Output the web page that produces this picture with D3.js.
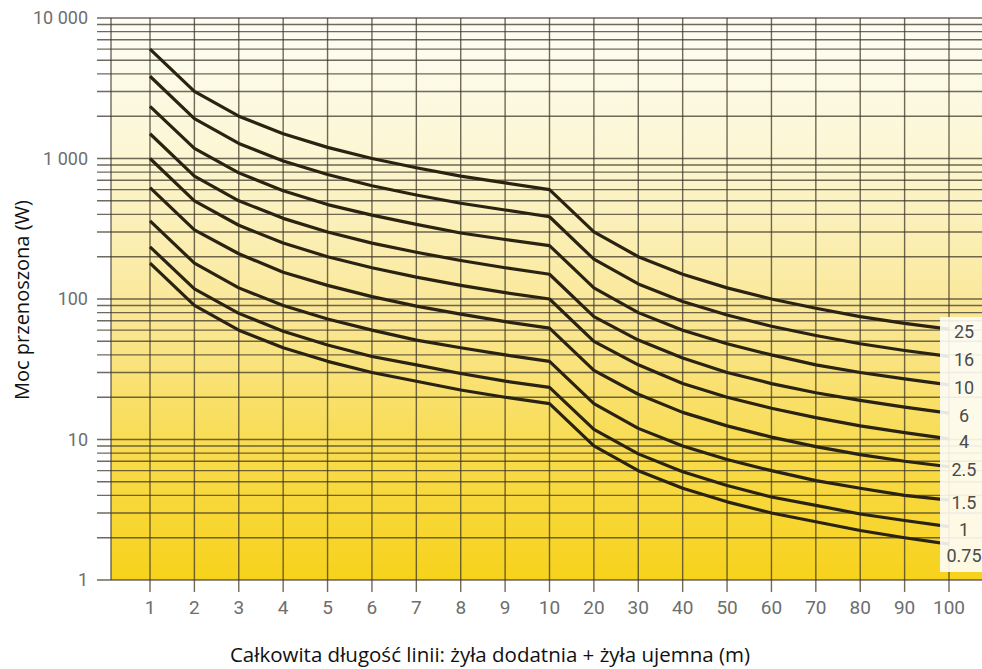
<!DOCTYPE html>
<html lang="pl">
<head>
    <meta charset="UTF-8">
    <script src="https://d3js.org/d3.v7.min.js"></script>
    <style>
        body { margin: 0; background: #fff; }
        .tick-label { font-family: "Liberation Sans Narrow", "Roboto", sans-serif; fill: #6e6e6e; }
        .axis-title { font-family: "Open Sans", "Noto Sans", sans-serif; fill: #111; }
    </style>
    <title>Moc przenoszona</title>
</head>
<body>
    <script>
        // Długość linii (m) – kategorie osi X
        const lengths = ["1", "2", "3", "4", "5", "6", "7", "8", "9", "10",
                         "20", "30", "40", "50", "60", "70", "80", "90", "100"];

        // Przekrój żyły (mm²) – etykiety krzywych
        const sections = ["25", "16", "10", "6", "4", "2.5", "1.5", "1", "0.75"];

        // Moc przenoszona (W), jedna tablica na przekrój
        const p25  = [6000, 3000, 2000, 1500, 1200, 1000, 860, 750, 670, 600, 300, 200, 150, 120, 100, 86, 75, 67, 61];
        const p16  = [3850, 1920, 1280, 960, 770, 640, 550, 480, 430, 385, 192, 128, 96, 77, 64, 55, 48, 43, 39];
        const p10  = [2350, 1180, 790, 590, 470, 395, 340, 295, 265, 240, 120, 80, 60, 48, 40, 34, 30, 27, 24.5];
        const p6   = [1500, 750, 500, 375, 300, 250, 215, 188, 167, 150, 75, 51, 38, 30, 25, 21.5, 19, 17, 15.4];
        const p4   = [1000, 500, 335, 250, 200, 167, 143, 125, 111, 100, 50, 34, 25, 20, 16.7, 14.3, 12.5, 11.2, 10.1];
        const p2_5 = [620, 310, 210, 155, 125, 104, 89, 78, 69, 62, 31, 21, 15.6, 12.5, 10.4, 8.9, 7.8, 7, 6.4];
        const p1_5 = [360, 180, 120, 90, 72, 60, 51, 45, 40, 36, 18, 12, 9, 7.2, 6, 5.1, 4.5, 4, 3.7];
        const p1   = [235, 118, 79, 59, 47, 39, 34, 29.5, 26, 23.5, 11.8, 7.9, 5.9, 4.7, 3.9, 3.4, 2.95, 2.65, 2.4];
        const p075 = [180, 90, 60, 45, 36, 30, 26, 22.5, 20, 18, 9, 6, 4.5, 3.6, 3, 2.6, 2.25, 2, 1.8];

        const series = [p25, p16, p10, p6, p4, p2_5, p1_5, p1, p075];

        const width = 982;
        const height = 669;
        const plot = { left: 111, right: 982, top: 18, bottom: 580 };

        const svg = d3.select("body")
            .append("svg")
            .attr("width", width)
            .attr("height", height);

        const x = d3.scalePoint()
            .domain(lengths)
            .range([plot.left + 39, plot.right - 33]);

        const y = d3.scaleLog()
            .domain([1, 10000])
            .range([plot.bottom, plot.top]);

        // tło z gradientem (jasne u góry, żółte na dole)
        const grad = svg.append("defs").append("linearGradient")
            .attr("id", "bg")
            .attr("x1", 0).attr("y1", 0).attr("x2", 0).attr("y2", 1);
        grad.append("stop").attr("offset", "0%").attr("stop-color", "#fdfdf6");
        grad.append("stop").attr("offset", "25%").attr("stop-color", "#fcf6d2");
        grad.append("stop").attr("offset", "55%").attr("stop-color", "#fae690");
        grad.append("stop").attr("offset", "80%").attr("stop-color", "#f8da45");
        grad.append("stop").attr("offset", "100%").attr("stop-color", "#f7d21c");

        svg.append("rect")
            .attr("x", plot.left)
            .attr("y", plot.top)
            .attr("width", plot.right - plot.left)
            .attr("height", plot.bottom - plot.top)
            .attr("fill", "url(#bg)");

        const gridColor = "#3f3829";

        // poziome linie siatki (log)
        const yTicks = y.ticks();
        svg.append("g")
            .selectAll("line")
            .data(yTicks)
            .join("line")
            .attr("x1", plot.left - 14)
            .attr("x2", plot.right)
            .attr("y1", d => y(d))
            .attr("y2", d => y(d))
            .attr("stroke", gridColor)
            .attr("stroke-opacity", 0.75)
            .attr("stroke-width", 1.4);

        // pionowe linie siatki
        svg.append("line")
            .attr("x1", plot.left).attr("x2", plot.left)
            .attr("y1", plot.top).attr("y2", plot.bottom)
            .attr("stroke", gridColor)
            .attr("stroke-opacity", 0.75)
            .attr("stroke-width", 1.4);

        svg.append("g")
            .selectAll("line")
            .data(lengths)
            .join("line")
            .attr("x1", d => x(d))
            .attr("x2", d => x(d))
            .attr("y1", plot.top)
            .attr("y2", plot.bottom + 12)
            .attr("stroke", gridColor)
            .attr("stroke-opacity", 0.75)
            .attr("stroke-width", 1.4);

        // etykiety osi Y
        const fmt = d3.formatLocale({ thousands: " ", grouping: [3], decimal: ".", currency: ["", ""] }).format(",d");
        svg.append("g")
            .selectAll("text")
            .data(yTicks.filter(d => Number.isInteger(Math.log10(d))))
            .join("text")
            .attr("class", "tick-label")
            .attr("x", plot.left - 23)
            .attr("y", d => y(d))
            .attr("dy", "0.35em")
            .attr("text-anchor", "end")
            .style("font-size", "18px")
            .text(d => fmt(d));

        // etykiety osi X
        svg.append("g")
            .selectAll("text")
            .data(lengths)
            .join("text")
            .attr("class", "tick-label")
            .attr("x", d => x(d))
            .attr("y", plot.bottom + 34)
            .attr("text-anchor", "middle")
            .style("font-size", "19px")
            .text(d => d);

        // krzywe
        const line = d3.line()
            .x((d, i) => x(lengths[i]))
            .y(d => y(d));

        svg.append("g")
            .selectAll("path")
            .data(series)
            .join("path")
            .attr("d", line)
            .attr("fill", "none")
            .attr("stroke", "#2a2312")
            .attr("stroke-width", 3.2)
            .attr("stroke-linejoin", "round");

        // ramka z przekrojami po prawej
        svg.append("rect")
            .attr("x", 940)
            .attr("y", 317)
            .attr("width", plot.right - 940)
            .attr("height", 255)
            .attr("fill", "#fdfdf8")
            .attr("fill-opacity", 0.9);

        // pozycje etykiet – koniec krzywej, z minimalnym odstępem
        const labelY = [];
        series.forEach((s, i) => {
            let py = y(s[s.length - 1]) + 3;
            if (i > 0 && py - labelY[i - 1] < 26) py = labelY[i - 1] + 26;
            labelY.push(py);
        });

        svg.append("g")
            .selectAll("text")
            .data(sections)
            .join("text")
            .attr("class", "tick-label")
            .attr("x", 964)
            .attr("y", (d, i) => labelY[i])
            .attr("dy", "0.35em")
            .attr("text-anchor", "middle")
            .style("font-size", "18px")
            .style("fill", "#4a4a4a")
            .text(d => d);

        // tytuły osi
        svg.append("text")
            .attr("class", "axis-title")
            .attr("x", 490)
            .attr("y", 662)
            .attr("text-anchor", "middle")
            .style("font-size", "20.5px")
            .text("Całkowita długość linii: żyła dodatnia + żyła ujemna (m)");

        svg.append("text")
            .attr("class", "axis-title")
            .attr("transform", "translate(29,300) rotate(-90)")
            .attr("text-anchor", "middle")
            .style("font-size", "20px")
            .text("Moc przenoszona (W)");
    </script>
</body>
</html>
